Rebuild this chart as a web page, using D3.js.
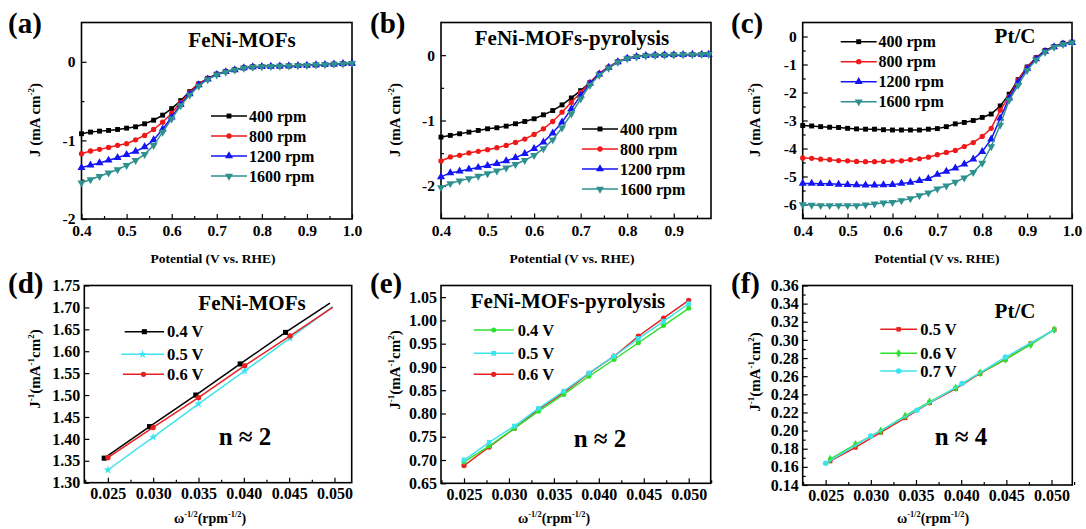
<!DOCTYPE html>
<html>
<head>
<meta charset="utf-8">
<script src="https://cdn.jsdelivr.net/npm/d3@7"></script>
<style>
  body { margin: 0; background: #fff; }
  svg { display: block; font-family: "Liberation Serif", "Times New Roman", serif; font-weight: bold; }
</style>
</head>
<body>
<svg id="fig" width="1086" height="529"></svg>
<script>
// ---------- LSV curves (potential in V vs. RHE, current density in mA cm-2) ----------
const rpmLabels = ["400 rpm", "800 rpm", "1200 rpm", "1600 rpm"];

const potAC = [0.40,0.42,0.44,0.46,0.48,0.50,0.52,0.54,0.56,0.58,0.60,0.62,0.64,0.66,0.68,0.70,
               0.72,0.74,0.76,0.78,0.80,0.82,0.84,0.86,0.88,0.90,0.92,0.94,0.96,0.98,1.00];
const potB  = [0.40,0.42,0.44,0.46,0.48,0.50,0.52,0.54,0.56,0.58,0.60,0.62,0.64,0.66,0.68,0.70,
               0.72,0.74,0.76,0.78,0.80,0.82,0.84,0.86,0.88,0.90,0.92,0.94,0.96,0.975];

// FeNi-MOFs
const jA400  = [-0.915,-0.894,-0.882,-0.873,-0.861,-0.844,-0.827,-0.789,-0.743,-0.679,-0.595,-0.494,-0.380,-0.280,-0.210,-0.156,
                -0.122,-0.100,-0.076,-0.063,-0.060,-0.058,-0.055,-0.052,-0.048,-0.045,-0.040,-0.035,-0.030,-0.025,-0.020];
const jA800  = [-1.169,-1.135,-1.114,-1.089,-1.063,-1.042,-0.992,-0.937,-0.861,-0.768,-0.654,-0.515,-0.388,-0.282,-0.215,-0.160,
                -0.125,-0.101,-0.078,-0.065,-0.061,-0.058,-0.055,-0.052,-0.048,-0.045,-0.040,-0.035,-0.030,-0.025,-0.020];
const jA1200 = [-1.346,-1.316,-1.287,-1.253,-1.220,-1.181,-1.139,-1.084,-0.995,-0.858,-0.705,-0.544,-0.409,-0.295,-0.220,-0.163,
                -0.127,-0.102,-0.079,-0.066,-0.061,-0.058,-0.055,-0.052,-0.048,-0.045,-0.040,-0.035,-0.030,-0.025,-0.020];
const jA1600 = [-1.540,-1.498,-1.456,-1.414,-1.371,-1.316,-1.253,-1.177,-1.063,-0.895,-0.726,-0.557,-0.422,-0.308,-0.225,-0.166,
                -0.130,-0.104,-0.080,-0.067,-0.061,-0.058,-0.055,-0.052,-0.048,-0.045,-0.040,-0.035,-0.030,-0.025,-0.020];

// FeNi-MOFs-pyrolysis
const jB400  = [-1.254,-1.228,-1.203,-1.178,-1.152,-1.127,-1.111,-1.086,-1.050,-1.015,-0.974,-0.913,-0.848,-0.761,-0.655,-0.543,
                -0.420,-0.290,-0.189,-0.102,-0.046,-0.021,-0.006,0.000,0.003,0.006,0.008,0.010,0.012,0.013];
const jB800  = [-1.619,-1.558,-1.533,-1.497,-1.472,-1.446,-1.416,-1.381,-1.335,-1.284,-1.213,-1.127,-1.015,-0.873,-0.721,-0.570,
                -0.415,-0.274,-0.178,-0.097,-0.048,-0.022,-0.007,0.000,0.003,0.006,0.008,0.010,0.012,0.013];
const jB1200 = [-1.863,-1.802,-1.776,-1.746,-1.720,-1.690,-1.659,-1.619,-1.568,-1.507,-1.431,-1.330,-1.193,-1.026,-0.822,-0.619,
                -0.432,-0.290,-0.189,-0.102,-0.050,-0.023,-0.008,-0.001,0.003,0.006,0.008,0.010,0.012,0.013];
const jB1600 = [-2.025,-1.964,-1.924,-1.888,-1.852,-1.812,-1.771,-1.726,-1.670,-1.609,-1.533,-1.431,-1.294,-1.111,-0.898,-0.670,
                -0.457,-0.305,-0.198,-0.107,-0.052,-0.024,-0.009,-0.002,0.002,0.005,0.008,0.010,0.012,0.013];

// Pt/C
const jC400  = [-3.18,-3.195,-3.22,-3.24,-3.25,-3.28,-3.30,-3.31,-3.31,-3.33,-3.34,-3.34,-3.34,-3.34,-3.31,-3.29,
                -3.22,-3.12,-3.07,-3.00,-2.89,-2.77,-2.48,-2.06,-1.54,-1.09,-0.76,-0.50,-0.355,-0.24,-0.20];
const jC800  = [-4.34,-4.35,-4.38,-4.40,-4.43,-4.44,-4.46,-4.47,-4.47,-4.46,-4.45,-4.44,-4.40,-4.37,-4.31,-4.22,
                -4.14,-4.07,-3.93,-3.79,-3.57,-3.28,-2.63,-2.15,-1.56,-1.10,-0.77,-0.52,-0.36,-0.26,-0.21];
const jC1200 = [-5.25,-5.25,-5.26,-5.26,-5.28,-5.29,-5.30,-5.31,-5.31,-5.30,-5.29,-5.25,-5.21,-5.15,-5.08,-4.93,
                -4.82,-4.70,-4.56,-4.38,-4.11,-3.67,-2.92,-2.20,-1.62,-1.15,-0.80,-0.53,-0.37,-0.27,-0.22];
const jC1600 = [-6.00,-6.02,-6.035,-6.035,-6.035,-6.035,-6.035,-6.01,-5.98,-5.94,-5.92,-5.86,-5.79,-5.68,-5.58,-5.44,
                -5.33,-5.20,-5.05,-4.85,-4.52,-3.93,-3.16,-2.27,-1.74,-1.21,-0.83,-0.56,-0.38,-0.28,-0.23];

// ---------- Koutecky-Levich plots (J^-1 vs. omega^-1/2) ----------
// FeNi-MOFs: measured points plus the end of each fitted line
const klD_labels = ["0.4 V", "0.5 V", "0.6 V"];
const klD_x04 = [0.0246,0.0296,0.0347,0.0396,0.0446], klD_y04 = [1.356,1.428,1.500,1.571,1.643];
const klD_x05 = [0.0250,0.0300,0.0350,0.0401,0.0451], klD_y05 = [1.329,1.404,1.480,1.555,1.630];
const klD_x06 = [0.0250,0.0300,0.0350,0.0401,0.0451], klD_y06 = [1.357,1.426,1.494,1.567,1.635];
const klD_fitEndX = [0.0495, 0.0498, 0.0498];
const klD_fitEndY = [1.710, 1.702, 1.700];

// FeNi-MOFs-pyrolysis
const klE_labels = ["0.4 V", "0.5 V", "0.6 V"];
const klE_x   = [0.0250,0.0278,0.0306,0.0333,0.0361,0.0389,0.0417,0.0444,0.0472,0.0500];
const klE_y04 = [0.696,0.730,0.768,0.805,0.841,0.880,0.916,0.952,0.989,1.026];
const klE_y05 = [0.700,0.738,0.773,0.811,0.848,0.887,0.923,0.961,0.998,1.036];
const klE_y06 = [0.688,0.728,0.768,0.809,0.845,0.886,0.923,0.966,1.005,1.043];

// Pt/C
const klF_labels = ["0.5 V", "0.6 V", "0.7 V"];
const klF_x   = [0.0255,0.0283,0.0311,0.0338,0.0365,0.0394,0.0421,0.0449,0.0477,0.0503];
const klF_y05 = [0.1664,0.1814,0.1980,0.2140,0.2306,0.2464,0.2630,0.2786,0.2959,0.3113];
const klF_y06 = [0.1686,0.1848,0.1997,0.2162,0.2317,0.2470,0.2636,0.2786,0.2947,0.3113];
const klF_x07 = [0.0250,0.0300,0.0351,0.0401,0.0449];
const klF_y07 = [0.1639,0.1939,0.2225,0.2519,0.2811];
const klF_fitEnd07 = [0.0503, 0.3110];

// ---------- tick values ----------
const potTicksAC = [0.4,0.5,0.6,0.7,0.8,0.9,1.0];
const potTicksB  = [0.4,0.5,0.6,0.7,0.8,0.9];
const jTicksAB   = [0,-1,-2];
const jTicksC    = [0,-1,-2,-3,-4,-5,-6];
const wTicks     = [0.025,0.030,0.035,0.040,0.045,0.050];
const invTicksD  = [1.30,1.35,1.40,1.45,1.50,1.55,1.60,1.65,1.70,1.75];
const invTicksE  = [0.65,0.70,0.75,0.80,0.85,0.90,0.95,1.00,1.05];
const invTicksF  = [0.14,0.16,0.18,0.20,0.22,0.24,0.26,0.28,0.30,0.32,0.34,0.36];

// ---------- colours ----------
const C_BLACK = "#000000", C_RED = "#f01818", C_BLUE = "#1414f5", C_TEAL = "#2f9090";
const C_CYAN = "#3fe3ee", C_GREEN = "#2fe02f", C_RED2 = "#e82020";

const svg = d3.select("#fig");
const FONT = "Liberation Serif, Times New Roman, serif";

function symbolPath(kind, size) {
  const t = { square: d3.symbolSquare, circle: d3.symbolCircle, triUp: d3.symbolTriangle,
              triDown: d3.symbolTriangle, diamond: d3.symbolDiamond, star: d3.symbolStar }[kind];
  return d3.symbol().type(t).size(size)();
}
function drawMarker(g, kind, size, color, cx, cy) {
  g.append("path").attr("d", symbolPath(kind, size))
    .attr("transform", `translate(${cx},${cy})` + (kind === "triDown" ? " rotate(180)" : ""))
    .attr("fill", color).attr("stroke", "none");
}

// text with raised parts, e.g. [["J",0],["-1",1],...]
function richText(g, x, y, parts, fs, rotate) {
  const t = g.append("text")
    .attr("transform", `translate(${x},${y})` + (rotate ? " rotate(-90)" : ""))
    .attr("text-anchor", "middle").attr("font-size", fs).attr("fill", "#000");
  let raised = false;
  parts.forEach(([s, sup]) => {
    const ts = t.append("tspan").text(s);
    if (sup) {
      ts.attr("font-size", fs * 0.6);
      if (!raised) { ts.attr("dy", -fs * 0.4); raised = true; }
    } else if (raised) {
      ts.attr("dy", fs * 0.4); raised = false;
    }
  });
}

const hyphenMinus = f => d => f(d).replace("\u2212", "-");

function panel(p) {
  const g = svg.append("g");
  const x = d3.scaleLinear().domain(p.xDomain).range([p.left, p.right]);
  const y = d3.scaleLinear().domain(p.yDomain).range([p.bottom, p.top]);

  const styleAxis = a => {
    a.select(".domain").remove();
    a.attr("font-family", FONT).attr("font-size", p.tickFs || 15.5).attr("font-weight", "bold");
    a.selectAll("line").attr("stroke-width", 1.2);
  };
  // minor ticks
  g.append("g").attr("transform", `translate(0,${p.bottom})`)
    .call(d3.axisBottom(x).tickValues(p.xMinor).tickSize(-3).tickFormat("")).call(styleAxis);
  g.append("g").attr("transform", `translate(${p.left},0)`)
    .call(d3.axisLeft(y).tickValues(p.yMinor).tickSize(-3).tickFormat("")).call(styleAxis);
  // major ticks
  g.append("g").attr("transform", `translate(0,${p.bottom})`)
    .call(d3.axisBottom(x).tickValues(p.xTicks).tickSizeInner(-5).tickSizeOuter(0)
      .tickPadding(p.xPad || 6).tickFormat(hyphenMinus(d3.format(p.xFmt)))).call(styleAxis);
  g.append("g").attr("transform", `translate(${p.left},0)`)
    .call(d3.axisLeft(y).tickValues(p.yTicks).tickSizeInner(-5).tickSizeOuter(0)
      .tickPadding(p.yPad || 5).tickFormat(hyphenMinus(d3.format(p.yFmt)))).call(styleAxis);

  // frame
  g.append("rect").attr("x", p.left).attr("y", p.top)
    .attr("width", p.right - p.left).attr("height", p.bottom - p.top)
    .attr("fill", "none").attr("stroke", "#000").attr("stroke-width", 1.6);

  // series
  const line = d3.line().x(d => x(d[0])).y(d => y(d[1]));
  p.series.forEach(s => {
    const pts = s.x.map((v, i) => [v, s.y[i]]);
    const linePts = s.lineEnd ? pts.concat([s.lineEnd]) : pts;
    g.append("path").datum(linePts).attr("d", line)
      .attr("fill", "none").attr("stroke", s.color).attr("stroke-width", s.lw || 1.5);
    pts.forEach(d => drawMarker(g, s.marker, s.msize, s.color, x(d[0]), y(d[1])));
  });

  // legend
  const L = p.legend;
  p.series.forEach((s, i) => {
    const ly = L.ys[i];
    const x0 = L.x0s ? L.x0s[i] : L.x0;
    g.append("line").attr("x1", x0).attr("x2", L.x1).attr("y1", ly).attr("y2", ly)
      .attr("stroke", s.color).attr("stroke-width", s.lw || 1.5);
    drawMarker(g, s.marker, s.msize, s.color, (x0 + L.x1) / 2, ly);
    g.append("text").attr("x", L.tx).attr("y", ly + L.fs * 0.35)
      .attr("font-size", L.fs).attr("fill", "#000").text(s.label);
  });

  // sample name, note and panel letter
  g.append("text").attr("x", p.title.x).attr("y", p.title.y).attr("text-anchor", "middle")
    .attr("font-size", p.title.fs || 21).text(p.title.text);
  if (p.note) {
    g.append("text").attr("x", p.note.x).attr("y", p.note.y).attr("text-anchor", "middle")
      .attr("font-size", 25).text(p.note.text);
  }
  g.append("text").attr("x", p.letter.x).attr("y", p.letter.y)
    .attr("font-size", 29).text(p.letter.text);

  // axis titles
  richText(g, p.xTitle.x, p.xTitle.y, p.xTitle.parts, p.xTitle.fs, false);
  richText(g, p.yTitle.x, p.yTitle.y, p.yTitle.parts, p.yTitle.fs, true);
}

const between = (lo, hi, step, majors) =>
  d3.range(lo, hi + step / 2, step).map(v => +v.toFixed(5))
    .filter(v => !majors.some(m => Math.abs(m - v) < step / 10));

const potTitle = [["Potential (V vs. RHE)", 0]];
const jTitle = [["J (mA cm", 0], ["-2", 1], [")", 0]];
const invTitle = [["J", 0], ["-1", 1], ["(mA", 0], ["-1", 1], ["cm", 0], ["2", 1], [")", 0]];
const wTitle = [["\u03c9", 0], ["-1/2", 1], ["(rpm", 0], ["-1/2", 1], [")", 0]];

function lsvSeries(pot, arrs) {
  const colors = [C_BLACK, C_RED, C_BLUE, C_TEAL];
  const marks = ["square", "circle", "triUp", "triDown"];
  const sizes = [24, 22, 28, 28];
  return arrs.map((a, i) => ({ x: pot, y: a, color: colors[i], marker: marks[i], msize: sizes[i], label: rpmLabels[i] }));
}

// (a) FeNi-MOFs LSV
panel({
  left: 81.5, right: 352, top: 22.5, bottom: 219,
  xDomain: [0.4, 1.0], yDomain: [-2, 0.5],
  xTicks: potTicksAC, xMinor: between(0.45, 0.95, 0.1, potTicksAC), xFmt: ".1f",
  yTicks: jTicksAB, yMinor: [-0.5, -1.5], yFmt: "d", yPad: 6,
  series: lsvSeries(potAC, [jA400, jA800, jA1200, jA1600]),
  legend: { x0: 211, x1: 247, tx: 249, ys: [116, 136, 156, 176], fs: 16 },
  title: { text: "FeNi-MOFs", x: 242, y: 46.5 },
  letter: { text: "(a)", x: 8, y: 33 },
  xTitle: { x: 213, y: 263, parts: potTitle, fs: 13.5 },
  yTitle: { x: 40, y: 120, parts: jTitle, fs: 15 }
});

// (b) FeNi-MOFs-pyrolysis LSV
panel({
  left: 441, right: 711, top: 22.5, bottom: 218.5,
  xDomain: [0.4, 0.98], yDomain: [-2.5, 0.5],
  xTicks: potTicksB, xMinor: between(0.45, 0.95, 0.1, potTicksB), xFmt: ".1f",
  yTicks: jTicksAB, yMinor: [-0.5, -1.5], yFmt: "d", yPad: 6,
  series: lsvSeries(potB, [jB400, jB800, jB1200, jB1600]),
  legend: { x0: 582, x1: 618, tx: 620, ys: [129, 149, 169, 189], fs: 16 },
  title: { text: "FeNi-MOFs-pyrolysis", x: 572, y: 45 },
  letter: { text: "(b)", x: 370, y: 33 },
  xTitle: { x: 572, y: 263, parts: potTitle, fs: 13.5 },
  yTitle: { x: 400, y: 120, parts: jTitle, fs: 15 }
});

// (c) Pt/C LSV
panel({
  left: 802.7, right: 1072, top: 22.5, bottom: 218.5,
  xDomain: [0.4, 1.0], yDomain: [-6.5, 0.5],
  xTicks: potTicksAC, xMinor: between(0.45, 0.95, 0.1, potTicksAC), xFmt: ".1f",
  yTicks: jTicksC, yMinor: [-0.5, -1.5, -2.5, -3.5, -4.5, -5.5], yFmt: "d", yPad: 6,
  series: lsvSeries(potAC, [jC400, jC800, jC1200, jC1600]),
  legend: { x0: 840.7, x1: 876.7, tx: 878.5, ys: [41.7, 61.7, 81.7, 101.7], fs: 16 },
  title: { text: "Pt/C", x: 1015, y: 42.7 },
  letter: { text: "(c)", x: 731, y: 33 },
  xTitle: { x: 937, y: 263, parts: potTitle, fs: 13.5 },
  yTitle: { x: 760, y: 120, parts: jTitle, fs: 15 }
});

// (d) FeNi-MOFs K-L plot
panel({
  left: 84.3, right: 351.7, top: 285.5, bottom: 482.7,
  xDomain: [0.0224, 0.0519], yDomain: [1.30, 1.75],
  xTicks: wTicks, xMinor: between(0.0225, 0.0525, 0.0025, wTicks).filter(v => v < 0.0519), xFmt: ".3f",
  yTicks: invTicksD, yMinor: [], yFmt: ".2f", yPad: 4, tickFs: 16, xPad: 5,
  series: [
    { x: klD_x04, y: klD_y04, lineEnd: [klD_fitEndX[0], klD_fitEndY[0]], color: C_BLACK, marker: "square", msize: 26, label: klD_labels[0] },
    { x: klD_x05, y: klD_y05, lineEnd: [klD_fitEndX[1], klD_fitEndY[1]], color: C_CYAN, marker: "star", msize: 22, label: klD_labels[1] },
    { x: klD_x06, y: klD_y06, lineEnd: [klD_fitEndX[2], klD_fitEndY[2]], color: C_RED2, marker: "circle", msize: 22, label: klD_labels[2] }
  ],
  legend: { x0s: [124.7, 121.3, 123], x1: 164, tx: 167, ys: [331.7, 354.3, 374.3], fs: 16.5 },
  title: { text: "FeNi-MOFs", x: 252, y: 310 },
  note: { text: "n \u2248 2", x: 245, y: 445 },
  letter: { text: "(d)", x: 8, y: 293 },
  xTitle: { x: 210, y: 523, parts: wTitle, fs: 14 },
  yTitle: { x: 40, y: 369, parts: invTitle, fs: 15 }
});

// (e) FeNi-MOFs-pyrolysis K-L plot
panel({
  left: 441, right: 710.7, top: 285.5, bottom: 483.3,
  xDomain: [0.02244, 0.05245], yDomain: [0.65, 1.075],
  xTicks: wTicks, xMinor: between(0.0225, 0.0525, 0.0025, wTicks), xFmt: ".3f",
  yTicks: invTicksE, yMinor: [], yFmt: ".2f", yPad: 4, tickFs: 16, xPad: 5,
  series: [
    { x: klE_x, y: klE_y06, color: C_RED2, marker: "circle", msize: 22, label: klE_labels[2] },
    { x: klE_x, y: klE_y04, color: C_GREEN, marker: "circle", msize: 20, label: klE_labels[0] },
    { x: klE_x, y: klE_y05, color: C_CYAN, marker: "square", msize: 22, label: klE_labels[1] }
  ],
  legend: { x0: 473.7, x1: 513.7, tx: 517.7, ys: [374.3, 330, 353.3], fs: 16.5 },
  title: { text: "FeNi-MOFs-pyrolysis", x: 568, y: 308 },
  note: { text: "n \u2248 2", x: 600, y: 447 },
  letter: { text: "(e)", x: 370, y: 293 },
  xTitle: { x: 554, y: 523, parts: wTitle, fs: 14 },
  yTitle: { x: 400, y: 370, parts: invTitle, fs: 15 }
});

// (f) Pt/C K-L plot
panel({
  left: 802.7, right: 1072.3, top: 285.5, bottom: 485,
  xDomain: [0.02246, 0.0523], yDomain: [0.14, 0.36],
  xTicks: wTicks, xMinor: between(0.0225, 0.0525, 0.0025, wTicks), xFmt: ".3f",
  yTicks: invTicksF, yMinor: between(0.15, 0.35, 0.02, []), yFmt: ".2f", yPad: 4, tickFs: 16, xPad: 5,
  series: [
    { x: klF_x, y: klF_y05, color: C_RED2, marker: "square", msize: 20, label: klF_labels[0] },
    { x: klF_x, y: klF_y06, color: C_GREEN, marker: "diamond", msize: 22, label: klF_labels[1] },
    { x: klF_x07, y: klF_y07, lineEnd: klF_fitEnd07, color: C_CYAN, marker: "circle", msize: 24, label: klF_labels[2] }
  ],
  legend: { x0: 880.3, x1: 917, tx: 920.3, ys: [329.3, 353.3, 371], fs: 16.5 },
  title: { text: "Pt/C", x: 1015, y: 318 },
  note: { text: "n \u2248 4", x: 961, y: 445 },
  letter: { text: "(f)", x: 731, y: 293 },
  xTitle: { x: 933, y: 523, parts: wTitle, fs: 14 },
  yTitle: { x: 760, y: 372, parts: invTitle, fs: 15 }
});
</script>
</body>
</html>
